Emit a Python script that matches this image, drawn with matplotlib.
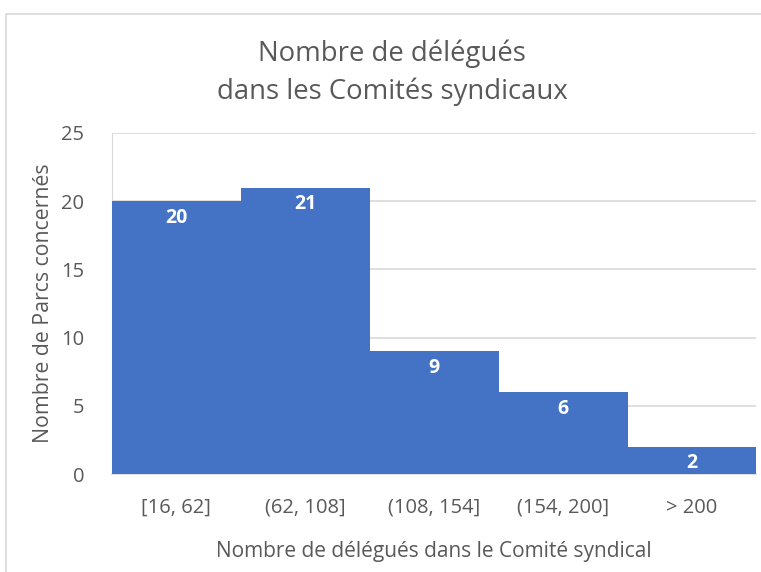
import numpy as np
import matplotlib.pyplot as plt
from matplotlib.patches import Rectangle

# DATA
categories = ["[16, 62]", "(62, 108]", "(108, 154]", "(154, 200]", "> 200"]
counts = [20, 21, 9, 6, 2]
yticks = [0, 5, 10, 15, 20, 25]

BLUE = "#4472C4"
GREY_TXT = "#595959"
GRID = "#D9D9D9"

plt.rcParams['font.family'] = ['Open Sans', 'DejaVu Sans']

fig = plt.figure(figsize=(7.61, 5.72), dpi=100)
ax = fig.add_axes([0.147, 0.1713, 0.847, 0.5962])

x = np.arange(len(categories))
ax.bar(x, counts, width=1.0, color=BLUE, zorder=3)
ax.set_xlim(-0.5, len(categories) - 0.5)
ax.set_ylim(0, 25)
ax.set_yticks(yticks)
ax.set_xticks(x)
ax.set_xticklabels(categories)
ax.tick_params(axis='both', length=0, labelsize=14.5, colors=GREY_TXT)
ax.tick_params(axis='x', pad=17)
ax.tick_params(axis='y', pad=20)
ax.yaxis.grid(True, color=GRID, linewidth=1.2, zorder=0)

for s in ['top', 'right']:
    ax.spines[s].set_visible(False)
ax.spines['left'].set_color(GRID)
ax.spines['bottom'].set_color(GRID)
ax.spines['bottom'].set_linewidth(1.2)

# value labels inside bar tops
for xi, v in zip(x, counts):
    ax.annotate(str(v), (xi, v), xytext=(0, -12), textcoords='offset points',
                ha='center', va='center', color='white', fontsize=14,
                fontweight='bold', zorder=4)

ax.set_xlabel("Nombre de délégués dans le Comité syndical", fontsize=15,
              color=GREY_TXT, labelpad=17)
ax.set_ylabel("Nombre de Parcs concernés", fontsize=15.3, color=GREY_TXT,
              labelpad=5)

fig.text(0.515, 0.873, "Nombre de délégués\ndans les Comités syndicaux",
         ha='center', va='center', fontsize=19.8, color=GREY_TXT,
         linespacing=1.45)

# chart border
fig.patches.append(Rectangle((6 / 761, -0.01), 1.0, 1 - 14 / 572 + 0.01,
                             transform=fig.transFigure, fill=False,
                             edgecolor=GRID, linewidth=1.2))

fig.savefig("out.png", dpi=100)
